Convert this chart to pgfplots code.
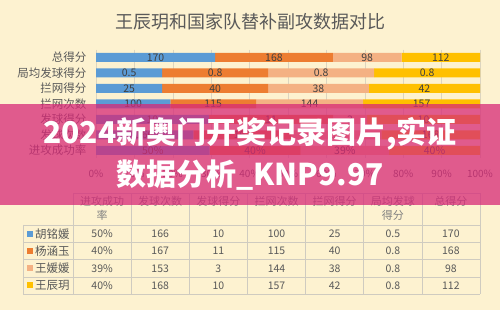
\documentclass[border=0pt]{standalone}
\usepackage{fontspec}
\setmainfont{Noto Sans CJK SC}
\usepackage{pgfplots}
\pgfplotsset{compat=1.18}
\definecolor{bg}{RGB}{253,242,208}
\definecolor{c1}{HTML}{5B9BD5}
\definecolor{c2}{HTML}{ED7D31}
\definecolor{c3}{HTML}{F4B183}
\definecolor{c4}{HTML}{FFC000}
\definecolor{txt}{HTML}{595959}
\definecolor{lbl}{HTML}{404040}
\definecolor{grd}{HTML}{DCD5C0}
\definecolor{tline}{HTML}{CFCBC0}
\definecolor{banner}{RGB}{215,41,119}
\begin{document}
\begin{tikzpicture}[x=1pt,y=1pt]
\fill[bg] (0,0) rectangle (500,310);
\path[use as bounding box] (0,0) rectangle (500,310);
\node[text=txt, font=\fontsize{18}{20}\selectfont] at (250,288.5) {王辰玥和国家队替补副攻数据对比};
\begin{axis}[
  at={(96pt,151.75pt)}, anchor=south west,
  scale only axis, width=384pt, height=108.5pt,
  xbar stacked, bar width=9pt,
  xmin=0, xmax=100, ymin=-0.5, ymax=6.5, y dir=reverse,
  xtick={0,10,...,100},
  xticklabels={0\%,10\%,20\%,30\%,40\%,50\%,60\%,70\%,80\%,90\%,100\%},
  ytick={0,...,6},
  yticklabels={总得分,局均发球得分,拦网得分,拦网次数,发球得分,发球次数,进攻成功率},
  xmajorgrids, grid style={grd, line width=0.6pt},
  axis line style={draw=none}, major tick length=0pt,
  tick label style={text=txt},
  xticklabel style={font=\fontsize{10}{12}\selectfont, anchor=center, yshift=-15.75pt},
  yticklabel style={font=\fontsize{11.5}{13}\selectfont, anchor=east, xshift=-6pt},
]
\addplot[fill=c1, draw=none] coordinates {(31.02,0) (17.24,1) (17.24,2) (19.38,3) (29.41,4) (25.38,5) (29.59,6)};
\addplot[fill=c2, draw=none] coordinates {(30.66,0) (27.59,1) (27.59,2) (22.29,3) (32.35,4) (25.54,5) (23.67,6)};
\addplot[fill=c3, draw=none] coordinates {(17.88,0) (27.59,1) (26.21,2) (27.91,3) (8.82,4) (23.39,5) (23.08,6)};
\addplot[fill=c4, draw=none] coordinates {(20.44,0) (27.58,1) (28.96,2) (30.42,3) (29.42,4) (25.69,5) (23.66,6)};
\end{axis}
\begin{axis}[
  at={(96pt,151.75pt)}, anchor=south west,
  scale only axis, width=384pt, height=108.5pt,
  xmin=0, xmax=100, ymin=-0.5, ymax=6.5, y dir=reverse,
  hide axis, clip=false,
]
\addplot[draw=none, mark=none, nodes near coords, point meta=explicit symbolic,
  every node near coord/.append style={anchor=center, text=lbl, font=\fontsize{10.5}{12}\selectfont, inner sep=0pt}]
coordinates {
(15.51,0) [170] (46.35,0) [168] (70.62,0) [98] (89.78,0) [112]
(8.62,1) [0.5] (31.03,1) [0.8] (58.62,1) [0.8] (86.21,1) [0.8]
(8.62,2) [25] (31.03,2) [40] (57.93,2) [38] (85.52,2) [42]
(9.69,3) [100] (30.52,3) [115] (55.62,3) [144] (84.79,3) [157]
(14.71,4) [10] (45.59,4) [11] (66.17,4) [3] (85.29,4) [10]
(12.69,5) [166] (38.15,5) [167] (62.62,5) [153] (87.16,5) [168]
(14.80,6) [50\%] (41.42,6) [40\%] (64.80,6) [39\%] (88.17,6) [40\%]
};
\end{axis}
% data table
\begin{scope}[draw=tline, line width=0.6pt]
\draw (73,117) -- (480,117);
\foreach \y in {85,67.7,50.3,33,16} \draw (23,\y) -- (480,\y);
\draw (23,85) -- (23,16);
\foreach \x in {73,131.14,189.29,247.43,305.57,363.71,421.86,480} \draw (\x,117) -- (\x,16);
\end{scope}
\begin{scope}[every node/.style={text=txt, inner sep=0pt}]
\foreach \x/\t in {102.1/进攻成功,160.2/发球次数,218.4/发球得分,276.5/拦网次数,334.6/拦网得分,392.8/局均发球,450.9/总得分}
  \node[font=\fontsize{11}{13}\selectfont, text=gray] at (\x,108.3) {\t};
\node[font=\fontsize{11}{13}\selectfont, text=gray] at (102.1,95) {率};
\node[font=\fontsize{11}{13}\selectfont, text=gray] at (392.8,95) {得分};
\foreach \yy/\c/\n/\a/\b/\cc/\d/\e/\f/\g in {
  76.3/c1/胡铭媛/50\%/166/10/100/25/0.5/170,
  59/c2/杨涵玉/40\%/167/11/115/40/0.8/168,
  41.7/c3/王媛媛/39\%/153/3/144/38/0.8/98,
  24.5/c4/王辰玥/40\%/168/10/157/42/0.8/112}{
  \fill[\c] (27,\yy-3) rectangle (33,\yy+3);
  \node[anchor=west, font=\fontsize{11.5}{13}\selectfont] at (35,\yy) {\n};
  \node[font=\fontsize{10.5}{12}\selectfont] at (102.1,\yy) {\a};
  \node[font=\fontsize{10.5}{12}\selectfont] at (160.2,\yy) {\b};
  \node[font=\fontsize{10.5}{12}\selectfont] at (218.4,\yy) {\cc};
  \node[font=\fontsize{10.5}{12}\selectfont] at (276.5,\yy) {\d};
  \node[font=\fontsize{10.5}{12}\selectfont] at (334.6,\yy) {\e};
  \node[font=\fontsize{10.5}{12}\selectfont] at (392.8,\yy) {\f};
  \node[font=\fontsize{10.5}{12}\selectfont] at (450.9,\yy) {\g};
}
\end{scope}
% banner overlay
\fill[banner, fill opacity=0.75] (0,105) rectangle (500,206);
\node[text=white, font=\bfseries\fontsize{30}{32}\selectfont] at (250,176) {2024新奥门开奖记录图片,实证};
\node[text=white, font=\bfseries\fontsize{30}{32}\selectfont] at (250,135) {数据分析\_KNP9.97};
\end{tikzpicture}
\end{document}
